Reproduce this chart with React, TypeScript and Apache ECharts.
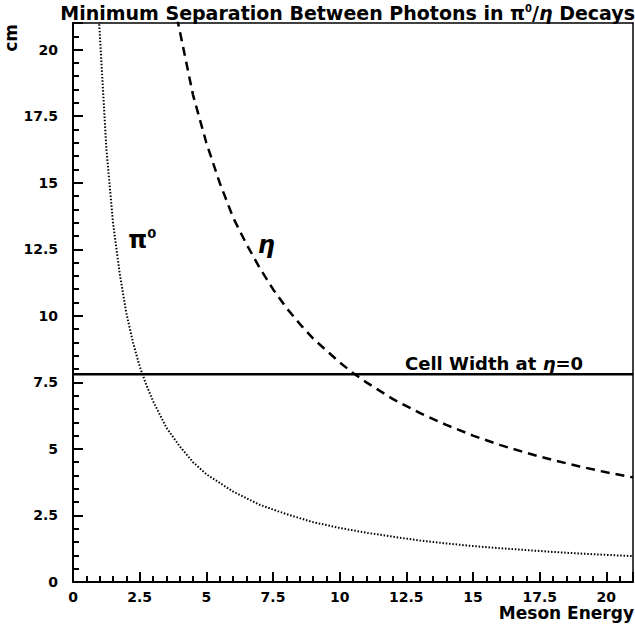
import React, { useEffect, useRef } from "react";
import * as echarts from "echarts";

const piEnergy = [0.97, 1.25, 1.5, 1.75, 2, 2.25, 2.5, 2.75, 3, 3.5, 4, 4.5, 5, 6, 7, 8, 9, 10, 11, 12, 13, 14, 15, 16, 17, 18, 19, 20, 21];
const piSep = [21.2, 16.3, 13.5, 11.6, 10.1, 9.0, 8.1, 7.4, 6.8, 5.8, 5.1, 4.5, 4.05, 3.4, 2.9, 2.55, 2.25, 2.03, 1.85, 1.7, 1.56, 1.45, 1.35, 1.27, 1.2, 1.13, 1.07, 1.02, 0.97];
const etaEnergy = [3.9, 4.5, 5, 5.5, 6, 6.5, 7, 7.5, 8, 8.5, 9, 9.5, 10, 10.5, 11, 12, 13, 14, 15, 16, 17, 18, 19, 20, 21];
const etaSep = [21.2, 18.3, 16.5, 15.0, 13.7, 12.7, 11.8, 11.0, 10.3, 9.7, 9.15, 8.7, 8.25, 7.85, 7.5, 6.87, 6.35, 5.9, 5.5, 5.15, 4.85, 4.58, 4.34, 4.12, 3.93];
const cellWidth = 7.8;
const cellRange = [0, 21];
const curveLabels = [
  { x: 2.6, y: 12.85, text: "{b|π}{s|0}" },
  { x: 7.25, y: 12.65, text: "{i|η}" },
];
const cellLabel = { x: 12.45, y: 8.2, text: "Cell Width at {i|η}=0" };
const axisMin = 0;
const axisMax = 21;
const majorStep = 2.5;
const minorStep = 0.5;

const FONT = "DejaVu Sans";

function majorAxis(extra: any) {
  return {
    type: "value",
    min: axisMin,
    max: axisMax,
    interval: majorStep,
    axisLine: { show: true, onZero: false, lineStyle: { color: "#000", width: 2 } },
    axisTick: { show: true, inside: true, length: 10, lineStyle: { color: "#000", width: 2 } },
    splitLine: { show: false },
    ...extra,
  };
}

function minorAxis(extra: any) {
  return {
    type: "value",
    min: axisMin,
    max: axisMax,
    interval: minorStep,
    axisLine: { show: false, onZero: false },
    axisTick: { show: true, inside: true, length: 6, lineStyle: { color: "#000", width: 2 } },
    axisLabel: { show: false },
    splitLine: { show: false },
    ...extra,
  };
}

function frameAxis(extra: any) {
  return {
    type: "value",
    min: axisMin,
    max: axisMax,
    interval: majorStep,
    axisLine: { show: true, onZero: false, lineStyle: { color: "#000", width: 1.5 } },
    axisTick: { show: false },
    axisLabel: { show: false },
    splitLine: { show: false },
    ...extra,
  };
}

export default function App() {
  const ref = useRef<HTMLDivElement>(null);
  useEffect(() => {
    const chart = echarts.init(ref.current!, null, { renderer: "svg" });
    const rich = {
      b: { fontFamily: FONT, fontWeight: "bold", fontSize: 24, color: "#000" },
      s: { fontFamily: FONT, fontWeight: "bold", fontSize: 13, color: "#000", padding: [0, 0, 13, 0] },
      i: { fontFamily: FONT, fontWeight: "bold", fontStyle: "italic", fontSize: 24, color: "#000" },
      c: { fontFamily: FONT, fontWeight: "bold", fontStyle: "italic", fontSize: 18, color: "#000" },
    };
    const labelFont = { fontFamily: FONT, fontWeight: "bold", fontSize: 14, color: "#000" };
    chart.setOption({
      animation: false,
      backgroundColor: "#fff",
      title: {
        text: "Minimum Separation Between Photons in {b|π}{s|0}/{i|η} Decays",
        right: 0,
        top: 3,
        padding: 0,
        textStyle: {
          fontFamily: FONT,
          fontWeight: "bold",
          fontSize: 19,
          color: "#000",
          rich: {
            b: { fontFamily: FONT, fontWeight: "bold", fontSize: 19, color: "#000" },
            s: { fontFamily: FONT, fontWeight: "bold", fontSize: 10, color: "#000", padding: [0, 0, 9, 0] },
            i: { fontFamily: FONT, fontWeight: "bold", fontStyle: "italic", fontSize: 19, color: "#000" },
          },
        },
      },
      grid: { left: 73, right: 2, top: 23, bottom: 47, show: false, outerBoundsMode: "none", containLabel: false },
      xAxis: [
        majorAxis({
          position: "bottom",
          axisLabel: {
            ...labelFont, margin: 8,
            formatter: (v: number) => (v > 20.5 ? "" : String(v)),
          },
        }),
        minorAxis({ position: "bottom" }),
        frameAxis({ position: "top" }),
      ],
      yAxis: [
        majorAxis({
          position: "left",
          axisLabel: {
            ...labelFont, margin: 15,
            formatter: (v: number) => (v > 20.5 ? "" : String(v)),
          },
        }),
        minorAxis({ position: "left" }),
        frameAxis({ position: "right" }),
      ],
      series: [
        {
          type: "line",
          name: "pi0",
          data: piEnergy.map((e, i) => [e, piSep[i]]),
          showSymbol: false,
          symbol: "none",
          clip: true,
          lineStyle: { color: "#000", width: 2, type: [1.5, 1.8] },
        },
        {
          type: "line",
          name: "eta",
          data: etaEnergy.map((e, i) => [e, etaSep[i]]),
          showSymbol: false,
          symbol: "none",
          clip: true,
          lineStyle: { color: "#000", width: 2.5, type: [9, 6] },
        },
        {
          type: "line",
          name: "cell",
          data: cellRange.map((e) => [e, cellWidth]),
          showSymbol: false,
          symbol: "none",
          lineStyle: { color: "#000", width: 2.5, type: "solid" },
        },
        {
          type: "scatter",
          name: "labels",
          symbolSize: 0,
          itemStyle: { opacity: 1, color: "#000" },
          data: curveLabels.map((l) => ({ value: [l.x, l.y], label: { formatter: l.text } })),
          label: { show: true, position: "inside", color: "#000", textBorderWidth: 0, opacity: 1, rich },
          silent: true,
        },
        {
          type: "scatter",
          name: "cellLabel",
          symbolSize: 0,
          itemStyle: { opacity: 1, color: "#000" },
          data: [{ value: [cellLabel.x, cellLabel.y], label: { formatter: cellLabel.text } }],
          label: {
            show: true,
            position: "right",
            distance: 0,
            fontFamily: FONT,
            fontWeight: "bold",
            fontSize: 18,
            color: "#000",
            opacity: 1,
            textBorderWidth: 0,
            rich: { i: rich.c },
          },
          silent: true,
        },
      ],
      graphic: [
        {
          type: "text",
          left: 2,
          top: 24,
          rotation: Math.PI / 2,
          style: { text: "cm", fontFamily: FONT, fontWeight: "bold", fontSize: 17, fill: "#000" },
        },
        {
          type: "text",
          right: 1,
          top: 604,
          style: { text: "Meson Energy", fontFamily: FONT, fontWeight: "bold", fontSize: 17, fill: "#000" },
        },
      ],
    });
    return () => chart.dispose();
  }, []);
  return <div ref={ref} style={{ width: 635, height: 629, position: "absolute", left: 0, top: 0 }} />;
}
